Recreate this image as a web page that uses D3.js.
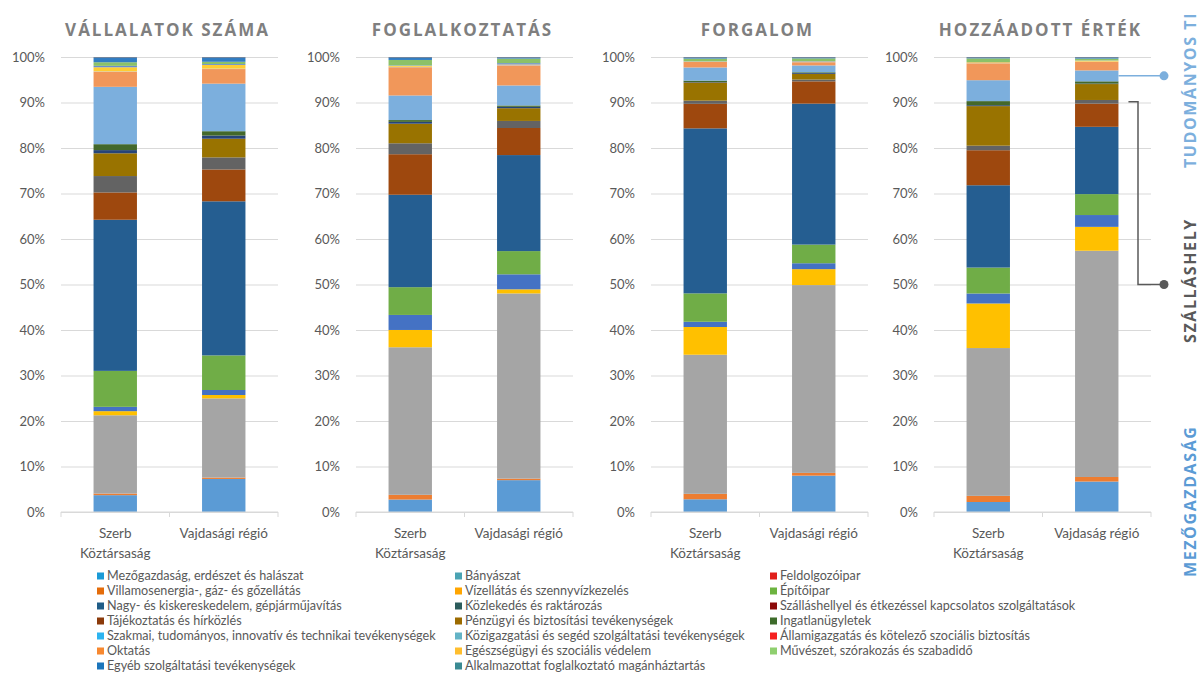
<!DOCTYPE html>
<html>
<head>
<meta charset="utf-8">
<script src="https://cdn.jsdelivr.net/npm/d3@7"></script>
<style>
body { margin: 0; background: #fff; }
svg { display: block; }
</style>
</head>
<body>
<div id="chart"></div>
<script>
const width = 1202,
height = 673,
plotLefts = [61, 356, 651, 934],
plotWidth = 217,
plotTop = 57,
plotBottom = 512,
labelFont = "Lato, 'Noto Sans', sans-serif",
titleFont = "'Open Sans', 'Noto Sans', sans-serif";

// panel titles and categories
const panelTitles = ["VÁLLALATOK SZÁMA", "FOGLALKOZTATÁS", "FORGALOM", "HOZZÁADOTT ÉRTÉK"];
const regions1 = ["Szerb Köztársaság", "Vajdasági régió"];
const regions4 = ["Szerb Köztársaság", "Vajdaság régió"];

const sectors = [
  "Mezőgazdaság, erdészet és halászat",
  "Bányászat",
  "Feldolgozóipar",
  "Villamosenergia-, gáz- és gőzellátás",
  "Vízellátás és szennyvízkezelés",
  "Építőipar",
  "Nagy- és kiskereskedelem, gépjárműjavítás",
  "Közlekedés és raktározás",
  "Szálláshellyel és étkezéssel kapcsolatos szolgáltatások",
  "Tájékoztatás és hírközlés",
  "Pénzügyi és biztosítási tevékenységek",
  "Ingatlanügyletek",
  "Szakmai, tudományos, innovatív és technikai tevékenységek",
  "Közigazgatási és segéd szolgáltatási tevékenységek",
  "Államigazgatás és kötelező szociális biztosítás",
  "Oktatás",
  "Egészségügyi és szociális védelem",
  "Művészet, szórakozás és szabadidő",
  "Egyéb szolgáltatási tevékenységek",
  "Alkalmazottat foglalkoztató magánháztartás"
];

// colours used on the columns
const barColors = [
  "#5b9bd5", "#ed7d31", "#a5a5a5", "#ffc000", "#4472c4", "#70ad47",
  "#255e91", "#9e480e", "#636363", "#997300", "#264478", "#43682b",
  "#7cafdd", "#f1975a", "#b7b7b7", "#ffcd33", "#698ed0", "#8cc168",
  "#327dc2", "#d26012"
];

// colours of the legend squares (they differ from the columns in the original)
const legendColors = [
  "#1a9ad6", "#4aa3b3", "#e0201c", "#e46c0a", "#ffa500", "#6cb33f",
  "#1f5c87", "#2c5c5c", "#8b0a0a", "#8b3a0a", "#9c6b00", "#3d6b2a",
  "#2db4f0", "#63b3c6", "#f52020", "#f7882f", "#ffbe2e", "#8fcf6f",
  "#1b75bb", "#3a8a93"
];

// shares in percent, one value per sector
const vallalatokSzerb = [3.7, 0.35, 17.2, 0.9, 0.95, 7.9, 33.2, 6.0, 3.6, 5.0, 0.7, 1.3, 12.6, 3.3, 0.1, 0.9, 0.3, 0.8, 1.1, 0.05];
const vallalatokVajdasag = [7.26, 0.3, 17.4, 0.74, 1.1, 7.6, 33.85, 7.0, 2.65, 4.1, 0.7, 0.95, 10.45, 3.2, 0.1, 0.8, 0.2, 0.5, 1.0, 0.05];
const foglalkoztatasSzerb = [2.74, 1.04, 32.4, 3.8, 3.3, 6.1, 20.3, 8.9, 2.4, 4.3, 0.4, 0.4, 5.4, 6.2, 0.1, 0.2, 0.1, 1.2, 0.6, 0.05];
const foglalkoztatasVajdasag = [7.0, 0.33, 40.7, 0.9, 3.3, 5.1, 21.1, 5.95, 1.55, 2.8, 0.3, 0.3, 4.4, 4.4, 0.1, 0.1, 0.3, 1.0, 0.3, 0.05];
const forgalomSzerb = [2.8, 1.2, 30.6, 6.1, 1.15, 6.25, 36.3, 5.4, 0.7, 4.0, 0.1, 0.3, 2.9, 1.2, 0.05, 0.05, 0.05, 0.6, 0.3, 0.05];
const forgalomVajdasag = [8.0, 0.6, 41.3, 3.5, 1.3, 4.1, 31.0, 4.9, 0.4, 1.25, 0.2, 0.15, 1.5, 0.7, 0.05, 0.1, 0.1, 0.6, 0.25, 0.05];
const hozzaadottSzerb = [2.2, 1.35, 32.5, 9.8, 2.2, 5.7, 18.1, 7.7, 1.0, 8.7, 0.2, 0.9, 4.6, 3.7, 0.05, 0.2, 0.05, 0.8, 0.25, 0.05];
const hozzaadottVajdasag = [6.7, 1.0, 49.75, 5.25, 2.6, 4.6, 14.8, 5.1, 0.8, 3.5, 0.1, 0.5, 2.4, 1.9, 0.05, 0.2, 0.05, 0.4, 0.3, 0.05];

const yTicks = [0, 0.1, 0.2, 0.3, 0.4, 0.5, 0.6, 0.7, 0.8, 0.9, 1];

// side notes on the right
const sideNotes = ["TUDOMÁNYOS TI", "SZÁLLÁSHELY", "MEZŐGAZDASÁG"];

const panels = [
  { title: panelTitles[0], regions: regions1, values: [vallalatokSzerb, vallalatokVajdasag] },
  { title: panelTitles[1], regions: regions1, values: [foglalkoztatasSzerb, foglalkoztatasVajdasag] },
  { title: panelTitles[2], regions: regions1, values: [forgalomSzerb, forgalomVajdasag] },
  { title: panelTitles[3], regions: regions4, values: [hozzaadottSzerb, hozzaadottVajdasag] },
];

const svg = d3.select("#chart")
  .append("svg")
  .attr("width", width)
  .attr("height", height);

const yScale = d3.scaleLinear()
  .domain([0, 1])
  .range([plotBottom, plotTop]);

const stack = d3.stack()
  .keys(d3.range(sectors.length))
  .value((d, k) => d.values[k])
  .offset(d3.stackOffsetExpand);

let lastX;

panels.forEach((panel, p) => {
  const left = plotLefts[p];
  const g = svg.append("g").attr("class", "panel");

  const xScale = d3.scaleBand()
    .domain(panel.regions)
    .range([left, left + plotWidth])
    .paddingInner(0.6)
    .paddingOuter(0.3);

  const xBands = d3.scaleBand()
    .domain(panel.regions)
    .range([left, left + plotWidth]);

  // gridlines + y labels
  g.append("g")
    .attr("class", "axis y-axis")
    .attr("transform", `translate(${left},0)`)
    .call(d3.axisLeft(yScale)
      .tickValues(yTicks)
      .tickSize(-plotWidth)
      .tickPadding(16)
      .tickFormat(d3.format(".0%")))
    .call(a => a.select(".domain").remove())
    .call(a => a.selectAll("line").attr("stroke", "#d9d9d9"))
    .call(a => a.selectAll("text")
      .attr("fill", "#595959")
      .style("font-family", labelFont)
      .style("font-size", "13px"));

  // columns
  const data = panel.regions.map((r, i) => ({ region: r, values: panel.values[i] }));
  const series = stack(data);

  g.append("g")
    .selectAll("g")
    .data(series)
    .join("g")
    .attr("fill", d => barColors[d.key])
    .selectAll("rect")
    .data(d => d)
    .join("rect")
    .attr("x", d => xScale(d.data.region))
    .attr("y", d => yScale(d[1]))
    .attr("width", xScale.bandwidth())
    .attr("height", d => Math.max(0, yScale(d[0]) - yScale(d[1])));

  // category axis
  const xAxis = g.append("g")
    .attr("class", "axis x-axis")
    .attr("transform", `translate(0,${plotBottom})`);

  xAxis.append("line")
    .attr("x1", left)
    .attr("x2", left + plotWidth)
    .attr("stroke", "#d9d9d9");

  xAxis.selectAll(".tick-mark")
    .data([...panel.regions.map(r => xBands(r)), left + plotWidth])
    .join("line")
    .attr("class", "tick-mark")
    .attr("x1", d => d)
    .attr("x2", d => d)
    .attr("y1", 0)
    .attr("y2", 5)
    .attr("stroke", "#d9d9d9");

  xAxis.selectAll(".cat")
    .data(panel.regions)
    .join("text")
    .attr("class", "cat")
    .attr("x", d => xBands(d) + xBands.bandwidth() / 2)
    .attr("y", 26)
    .attr("text-anchor", "middle")
    .attr("fill", "#595959")
    .style("font-family", labelFont)
    .style("font-size", "13.5px")
    .each(function(d) {
      wrap(d3.select(this), d, xBands.bandwidth() - 6);
    });

  // title
  svg.append("text")
    .attr("class", "title")
    .attr("x", left + plotWidth / 2 - 2)
    .attr("y", 36)
    .attr("text-anchor", "middle")
    .attr("fill", "#7f7f7f")
    .style("font-family", titleFont)
    .style("font-weight", "700")
    .style("font-size", "17px")
    .style("letter-spacing", "2px")
    .text(panel.title);

  if (p === 3) lastX = xScale;
});

function wrap(text, label, maxWidth) {
  const words = label.split(" ");
  let line = [];
  let tspan = text.append("tspan").attr("x", text.attr("x")).attr("dy", 0);
  words.forEach(w => {
    line.push(w);
    tspan.text(line.join(" "));
    if (tspan.node().getComputedTextLength() > maxWidth && line.length > 1) {
      line.pop();
      tspan.text(line.join(" "));
      line = [w];
      tspan = text.append("tspan").attr("x", text.attr("x")).attr("dy", "1.45em").text(w);
    }
  });
}

// legend
const legendCols = [97, 455, 770];
const legend = svg.append("g").attr("class", "legend");

const legendItem = legend.selectAll("g")
  .data(sectors)
  .join("g")
  .attr("transform", (d, i) => `translate(${legendCols[i % 3]},${576 + Math.floor(i / 3) * 15})`);

legendItem.append("rect")
  .attr("x", 0)
  .attr("y", -3.5)
  .attr("width", 7)
  .attr("height", 7)
  .attr("fill", (d, i) => legendColors[i]);

legendItem.append("text")
  .attr("x", 10)
  .attr("y", 4)
  .attr("fill", "#595959")
  .style("font-family", labelFont)
  .style("font-size", "12.6px")
  .text(d => d);

// side notes with connectors (last panel, Vajdaság column)
const barRight = lastX(regions4[1]) + lastX.bandwidth();
const vaj = d3.cumsum(hozzaadottVajdasag).map(v => v / d3.sum(hozzaadottVajdasag));
const szakmaiMid = yScale((vaj[11] + vaj[12]) / 2);
const szallasMid = yScale((vaj[7] + vaj[8]) / 2);
const dotX = 1164;

svg.append("path")
  .attr("d", `M${barRight},${szakmaiMid}H${dotX}`)
  .attr("fill", "none")
  .attr("stroke", "#7cafdd")
  .attr("stroke-width", 1.5);

svg.append("circle")
  .attr("cx", dotX)
  .attr("cy", szakmaiMid)
  .attr("r", 4.5)
  .attr("fill", "#7cafdd");

svg.append("path")
  .attr("d", `M${barRight + 10},${szallasMid}H1138V${yScale(0.5)}H${dotX}`)
  .attr("fill", "none")
  .attr("stroke", "#595959")
  .attr("stroke-width", 1.5);

svg.append("circle")
  .attr("cx", dotX)
  .attr("cy", yScale(0.5))
  .attr("r", 4.5)
  .attr("fill", "#595959");

const noteStarts = [168, 343, 577];
const noteColors = ["#7cafdd", "#595959", "#5b9bd5"];

svg.selectAll(".note")
  .data(sideNotes)
  .join("text")
  .attr("class", "note")
  .attr("transform", (d, i) => `translate(1196,${noteStarts[i]}) rotate(-90)`)
  .attr("fill", (d, i) => noteColors[i])
  .style("font-family", titleFont)
  .style("font-weight", "700")
  .style("font-size", "16px")
  .style("letter-spacing", "1.6px")
  .text(d => d);
</script>
</body>
</html>
